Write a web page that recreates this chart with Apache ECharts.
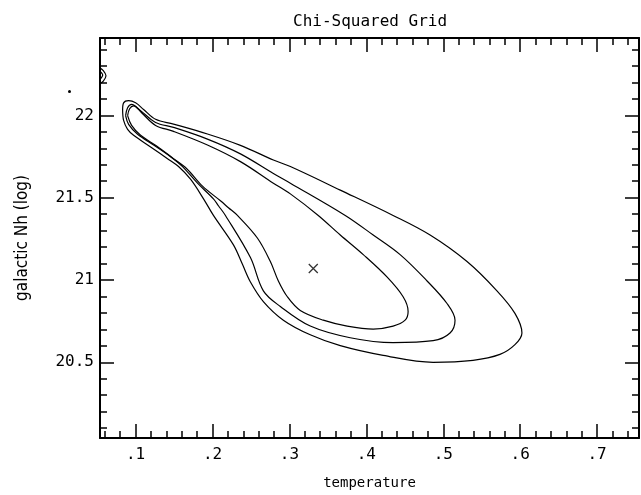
<!DOCTYPE html>
<html>
<head>
<meta charset="utf-8">
<script src="https://cdn.jsdelivr.net/npm/echarts@6/dist/echarts.min.js"></script>
<style>html,body{margin:0;padding:0;background:#fff}#c{width:641px;height:495px}</style>
</head>
<body>
<div id="c"></div>
<script>
// ---- data ----
const titleText = 'Chi-Squared Grid';
const xName = 'temperature';
const yName = 'galactic Nh (log)';
const xMin = 0.0537, xMax = 0.7545;
const yMin = 20.04, yMax = 22.47;

const innerContour = [
  [0.0896,21.998],[0.0922,22.040],[0.0974,22.058],[0.1078,22.016],[0.1260,21.939],
  [0.1493,21.903],[0.1934,21.820],[0.2363,21.719],[0.2791,21.588],[0.3012,21.523],
  [0.3375,21.392],[0.3661,21.273],[0.3960,21.154],[0.4271,21.017],[0.4478,20.898],
  [0.4543,20.809],[0.4504,20.756],[0.4348,20.720],[0.4089,20.702],[0.3751,20.720],
  [0.3440,20.756],[0.3141,20.815],[0.2973,20.898],[0.2856,20.994],[0.2752,21.112],
  [0.2583,21.255],[0.2324,21.392],[0.2207,21.439],[0.2103,21.481],[0.1870,21.570],
  [0.1662,21.677],[0.1493,21.737],[0.1273,21.814],[0.1065,21.879],[0.0948,21.939]
];
const middleContour = [
  [0.0870,21.998],[0.0896,22.046],[0.0948,22.067],[0.1065,22.028],[0.1260,21.957],
  [0.1493,21.927],[0.1934,21.856],[0.2363,21.766],[0.2791,21.647],[0.3012,21.588],
  [0.3726,21.392],[0.4089,21.273],[0.4439,21.154],[0.4790,20.994],[0.5049,20.857],
  [0.5153,20.756],[0.5088,20.678],[0.4868,20.631],[0.4348,20.619],[0.3790,20.649],
  [0.3271,20.720],[0.2882,20.839],[0.2661,20.934],[0.2493,21.136],[0.2168,21.392],
  [0.2077,21.451],[0.2012,21.493],[0.1805,21.588],[0.1610,21.689],[0.1454,21.749],
  [0.1234,21.820],[0.1026,21.885],[0.0909,21.945]
];
const outerContour = [
  [0.0831,22.034],[0.0844,22.076],[0.0909,22.089],[0.1000,22.076],[0.1104,22.036],
  [0.1260,21.976],[0.1493,21.947],[0.1934,21.887],[0.2363,21.818],[0.2791,21.729],
  [0.3012,21.689],[0.3661,21.546],[0.4348,21.392],[0.4829,21.273],[0.5309,21.112],
  [0.5698,20.934],[0.5932,20.797],[0.6023,20.678],[0.5932,20.607],[0.5737,20.548],
  [0.5387,20.512],[0.4868,20.500],[0.4219,20.542],[0.3661,20.601],[0.3271,20.667],
  [0.2921,20.756],[0.2661,20.869],[0.2493,20.988],[0.2389,21.095],[0.2272,21.213],
  [0.2012,21.392],[0.1883,21.493],[0.1714,21.612],[0.1558,21.689],[0.1415,21.737],
  [0.1195,21.808],[0.0974,21.879],[0.0896,21.915],[0.0844,21.969]
];
const edgeLoopOuter = [
  [0.0530,22.290],[0.0580,22.272],[0.0615,22.240],[0.0580,22.208],[0.0530,22.190]
];
const edgeLoopInner = [
  [0.0530,22.270],[0.0572,22.245],[0.0530,22.215]
];
const bestFit = [[0.331, 21.07]];

// ---- chart ----
const FONT = 'DejaVu Sans Mono';
function closeLoop(a){ return a.concat([a[0]]); }
function contour(d){
  return { type:'line', data:d, smooth:0.35, symbol:'none', clip:true,
    lineStyle:{color:'#000', width:1.2}, silent:true, animation:false };
}
function xAx(pos, labels){
  return { type:'value', position:pos, min:xMin, max:xMax, splitNumber:7,
    axisLine:{show:true, onZero:false, lineStyle:{color:'#000', width:2}},
    axisTick:{show:true, inside:true, length:14, lineStyle:{color:'#000', width:1.5}},
    minorTick:{show:true, splitNumber:5, length:7, lineStyle:{color:'#000', width:1.5}},
    splitLine:{show:false}, minorSplitLine:{show:false},
    axisLabel:{show:labels, showMinLabel:false, showMaxLabel:false, color:'#000',
      fontFamily:FONT, fontSize:16, margin:9,
      formatter:function(v){ return String(+v.toFixed(2)).replace(/^0\./,'.'); }},
    name: labels ? xName : '', nameLocation:'middle', nameGap:38,
    nameTextStyle:{color:'#000', fontFamily:FONT, fontSize:14}
  };
}
function yAx(pos, labels){
  return { type:'value', position:pos, min:yMin, max:yMax, splitNumber:5,
    axisLine:{show:true, onZero:false, lineStyle:{color:'#000', width:2}},
    axisTick:{show:true, inside:true, length:14, lineStyle:{color:'#000', width:1.5}},
    minorTick:{show:true, splitNumber:5, length:7, lineStyle:{color:'#000', width:1.5}},
    splitLine:{show:false}, minorSplitLine:{show:false},
    axisLabel:{show:labels, showMinLabel:false, showMaxLabel:false, color:'#000',
      fontFamily:FONT, fontSize:16, margin:6},
    name: labels ? yName : '', nameLocation:'middle', nameGap:69, nameRotate:90,
    nameTextStyle:{color:'#000', fontFamily:'"Liberation Sans Narrow", "DejaVu Sans Condensed"', fontSize:17}
  };
}
const chart = echarts.init(document.getElementById('c'), null, {renderer:'canvas'});
chart.setOption({
  animation:false,
  backgroundColor:'#fff',
  title:{ text:titleText, left:288, top:9,
    textStyle:{color:'#000', fontFamily:FONT, fontSize:16, fontWeight:'normal'} },
  grid:{ left:100, top:38, width:539, height:409, containLabel:false },
  xAxis:[ xAx('bottom', true), xAx('top', false) ],
  yAxis:[ yAx('left', true), yAx('right', false) ],
  graphic:[{ type:'circle', left:68, top:90, shape:{r:1.5}, style:{fill:'#000'}, silent:true }],
  series:[
    contour(closeLoop(outerContour)),
    contour(closeLoop(middleContour)),
    contour(closeLoop(innerContour)),
    contour(edgeLoopOuter),
    contour(edgeLoopInner),
    { type:'scatter', data:bestFit, symbol:'path://M0,0L10,10M10,0L0,10', symbolSize:9,
      itemStyle:{color:'none', borderColor:'#000', borderWidth:1.3}, silent:true }
  ]
});
</script>
</body>
</html>
